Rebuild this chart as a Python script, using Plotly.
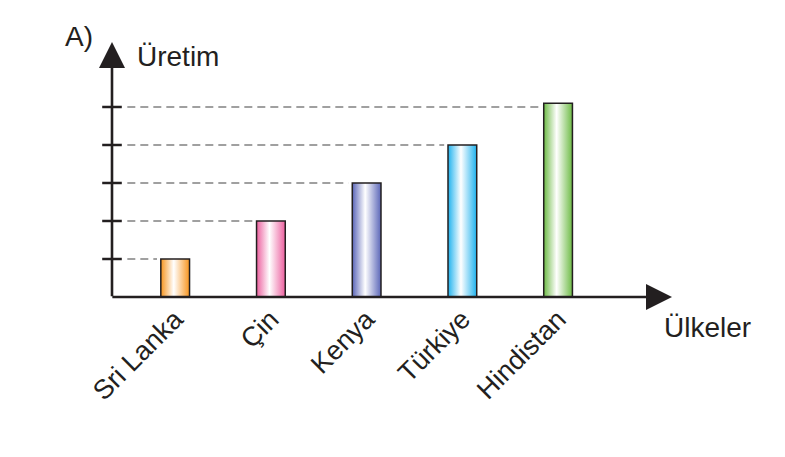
import plotly.graph_objects as go

countries = ["Sri Lanka", "Çin", "Kenya", "Türkiye", "Hindistan"]
production = [1, 2, 3, 4, 5.1]
grid_levels = [1, 2, 3, 4, 5]
bar_colors = ["#F7941D", "#EC5F9E", "#5B66B8", "#1FB2EE", "#6DBB45"]

INK = "#231f20"
FONT = "Liberation Sans, Arial, sans-serif"
half_w = 0.15
x_left, x_tip = -0.66, 5.19
y_top = 6.71

fig = go.Figure()

# dashed guide lines from y-axis to each bar
for i, lvl in enumerate(grid_levels):
    fig.add_trace(go.Scatter(
        x=[x_left + 0.16, i - half_w - 0.04], y=[lvl, lvl], mode="lines",
        line=dict(color="#a0a0a0", width=2.2, dash="8px,5px"),
        hoverinfo="skip", showlegend=False, cliponaxis=False))

# bars with horizontal gradient fill
for i, (name, val, col) in enumerate(zip(countries, production, bar_colors)):
    fig.add_trace(go.Scatter(
        x=[i - half_w, i - half_w, i + half_w, i + half_w, i - half_w],
        y=[0, val, val, 0, 0],
        mode="lines", fill="toself",
        fillgradient=dict(type="horizontal",
                          colorscale=[[0, col], [0.45, "#ffffff"], [1, col]]),
        line=dict(color=INK, width=1.5),
        name=name, showlegend=False, cliponaxis=False))

# y-axis tick marks crossing the axis
fig.add_trace(go.Scatter(
    x=[x_left] * len(grid_levels), y=grid_levels, mode="markers",
    marker=dict(symbol="line-ew", size=14, line=dict(width=2.5, color=INK)),
    hoverinfo="skip", showlegend=False, cliponaxis=False))

# axes with arrowheads
fig.add_annotation(x=x_tip, y=0, ax=x_left - 0.012, ay=0, xref="x", yref="y",
                   axref="x", ayref="y", text="", showarrow=True,
                   arrowhead=2, arrowsize=2.0, arrowwidth=2.6, arrowcolor=INK)
fig.add_annotation(x=x_left, y=y_top, ax=x_left, ay=-0.02, xref="x", yref="y",
                   axref="x", ayref="y", text="", showarrow=True,
                   arrowhead=2, arrowsize=2.0, arrowwidth=2.6, arrowcolor=INK)

txt = dict(family=FONT, size=28, color=INK)
fig.add_annotation(text="A)", x=-0.088, y=1.02, xref="paper", yref="paper",
                   xanchor="left", yanchor="middle", showarrow=False, font=txt)
fig.add_annotation(text="Üretim", x=0.041, y=0.945, xref="paper", yref="paper",
                   xanchor="left", yanchor="middle", showarrow=False, font=txt)
fig.add_annotation(text="Ülkeler", x=0.982, y=-0.118, xref="paper", yref="paper",
                   xanchor="left", yanchor="middle", showarrow=False, font=txt)

fig.update_xaxes(range=[x_left, x_tip], tickvals=list(range(len(countries))),
                 ticktext=countries, tickangle=-45, showgrid=False,
                 zeroline=False, showline=False, ticks="", automargin=False,
                 tickfont=dict(family=FONT, size=27, color=INK))
fig.update_yaxes(range=[0, y_top], visible=False, automargin=False)

# page body has an 8px margin, so the figure is sized/offset to compensate
fig.update_layout(width=777, height=449, margin=dict(l=104, r=113, t=34, b=160),
                  plot_bgcolor="white", paper_bgcolor="white", showlegend=False)

fig.write_html("out.html")
